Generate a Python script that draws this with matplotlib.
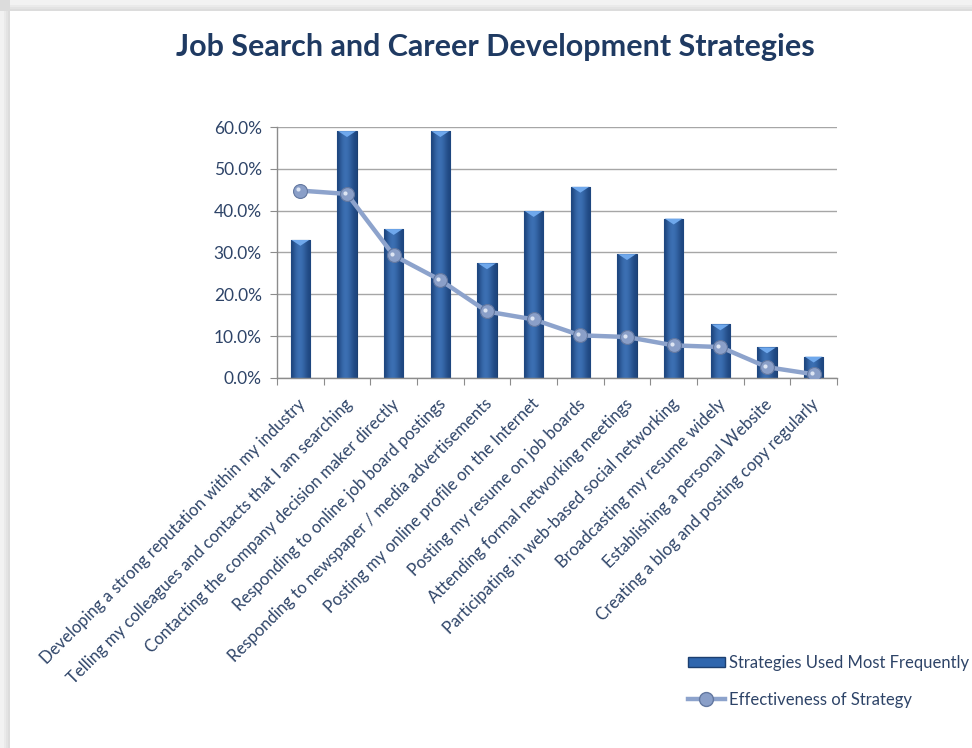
import matplotlib
matplotlib.use("Agg")
import matplotlib.pyplot as plt
import numpy as np
from matplotlib.patches import Rectangle, Patch, Polygon
from matplotlib.lines import Line2D
from matplotlib.ticker import FuncFormatter, MultipleLocator

strategies = [
    "Developing a strong reputation within my industry",
    "Telling my colleagues and contacts that I am searching",
    "Contacting the company decision maker directly",
    "Responding to online job board postings",
    "Responding to newspaper / media advertisements",
    "Posting my online profile on the Internet",
    "Posting my resume on job boards",
    "Attending formal networking meetings",
    "Participating in web-based social networking",
    "Broadcasting my resume widely",
    "Establishing a personal Website",
    "Creating a blog and posting copy regularly",
]
used_most = [0.330, 0.590, 0.356, 0.590, 0.274, 0.399, 0.457,
             0.296, 0.381, 0.128, 0.073, 0.051]
effectiveness = [0.448, 0.440, 0.293, 0.234, 0.159, 0.140, 0.102,
                 0.098, 0.078, 0.074, 0.026, 0.009]

text_col = "#2E4468"
title_col = "#1F3A62"
plt.rcParams["font.family"] = ["Lato", "DejaVu Sans"]

fig = plt.figure(figsize=(9.72, 7.48), dpi=100, facecolor="white")

# grey page shadow along the top and left edges
W, H = 972.0, 748.0
for i, g in enumerate(["#dcdcdc", "#e3e3e3", "#eaeaea", "#f2f2f2"]):
    fig.add_artist(Rectangle((0, 1 - (11 - i * 2) / H), 1, (11 - i * 2) / H,
                             transform=fig.transFigure, color=g, lw=0, zorder=0))
    fig.add_artist(Rectangle((0, 0), (10 - i * 2) / W, 1,
                             transform=fig.transFigure, color=g, lw=0, zorder=0))
fig.add_artist(Rectangle((0, 1 - 11 / H), 10 / W, 11 / H,
                         transform=fig.transFigure, color="#dcdcdc", lw=0, zorder=0))

ax = fig.add_axes([277 / W, 1 - 378 / H, 560 / W, 251 / H])
ax.set_facecolor("none")

x = np.arange(len(strategies))
bar_w = 0.42
bars = ax.bar(x, used_most, width=bar_w, color="#2F66AE", edgecolor="#1C3F70",
              linewidth=0.8, zorder=2, label="Strategies Used Most Frequently")

# horizontal shading inside each bar
shade = np.array([[0.0, 0.35, 0.6, 0.7, 0.6, 0.4, 0.15, 0.0]])
cmap = matplotlib.colors.LinearSegmentedColormap.from_list(
    "barshade", ["#1E467F", "#4A84CC"])
for rect, h in zip(bars, used_most):
    x0 = rect.get_x()
    im = ax.imshow(shade, cmap=cmap, vmin=0, vmax=1, aspect="auto",
                   extent=[x0, x0 + bar_w, 0, h], zorder=2.1,
                   interpolation="bicubic")
    im.set_clip_path(rect)
    # bevelled cap
    cap = 0.014
    ax.add_patch(Polygon([[x0 + 0.02, h], [x0 + bar_w - 0.02, h],
                          [x0 + bar_w / 2, h - cap]],
                         closed=True, color="#6FA8EC", lw=0, zorder=2.2))

ax.plot(x, effectiveness, color="#8DA3CC", lw=3.2, marker="o", ms=10,
        mfc="#8A9FC8", mec="#6378A0", mew=0.8, zorder=3,
        label="Effectiveness of Strategy")
ax.plot(x - 0.04, np.array(effectiveness) + 0.003, ls="none", marker="o",
        ms=3, mfc="#DDE5F3", mec="none", zorder=3.1)

ax.set_xlim(-0.5, len(strategies) - 0.5)
ax.set_ylim(0, 0.6)
ax.yaxis.set_major_locator(MultipleLocator(0.1))
ax.yaxis.set_major_formatter(FuncFormatter(lambda v, p: f"{v * 100:.1f}%"))
ax.grid(axis="y", color="#a6a6a6", lw=1.0, zorder=0)
ax.set_axisbelow(True)

for s in ["top", "right"]:
    ax.spines[s].set_visible(False)
for s in ["left", "bottom"]:
    ax.spines[s].set_color("#8c8c8c")
    ax.spines[s].set_linewidth(1.0)

ax.set_xticks(np.arange(len(strategies) + 1) - 0.5)
ax.set_xticklabels([])
ax.tick_params(axis="x", direction="out", length=5, color="#8c8c8c")
ax.tick_params(axis="y", direction="out", length=5, color="#8c8c8c",
               labelsize=12.5, labelcolor=text_col, pad=6)

for xi, lab in zip(x, strategies):
    ax.annotate(lab, xy=(xi, 0), xycoords=("data", "axes fraction"),
                xytext=(2, -17), textcoords="offset points",
                rotation=45, rotation_mode="anchor", ha="right", va="center",
                fontsize=12, color=text_col)

fig.text(0.51, 1 - 47 / H, "Job Search and Career Development Strategies",
         ha="center", va="center", fontsize=22, fontweight="bold",
         color=title_col)

handles = [Patch(facecolor="#2F66AE", edgecolor="#1C3F70"),
           Line2D([0], [0], color="#8DA3CC", lw=3.2, marker="o", ms=10,
                  mfc="#8A9FC8", mec="#6378A0")]
fig.legend(handles, ["Strategies Used Most Frequently", "Effectiveness of Strategy"],
           loc="upper left", bbox_to_anchor=(688 / W, 1 - 655 / H),
           frameon=False, fontsize=12, labelcolor=text_col,
           handlelength=2.2, handletextpad=0.25, labelspacing=1.25,
           handleheight=0.6, borderaxespad=0, borderpad=0)

fig.savefig("out.png", dpi=100, facecolor="white")
